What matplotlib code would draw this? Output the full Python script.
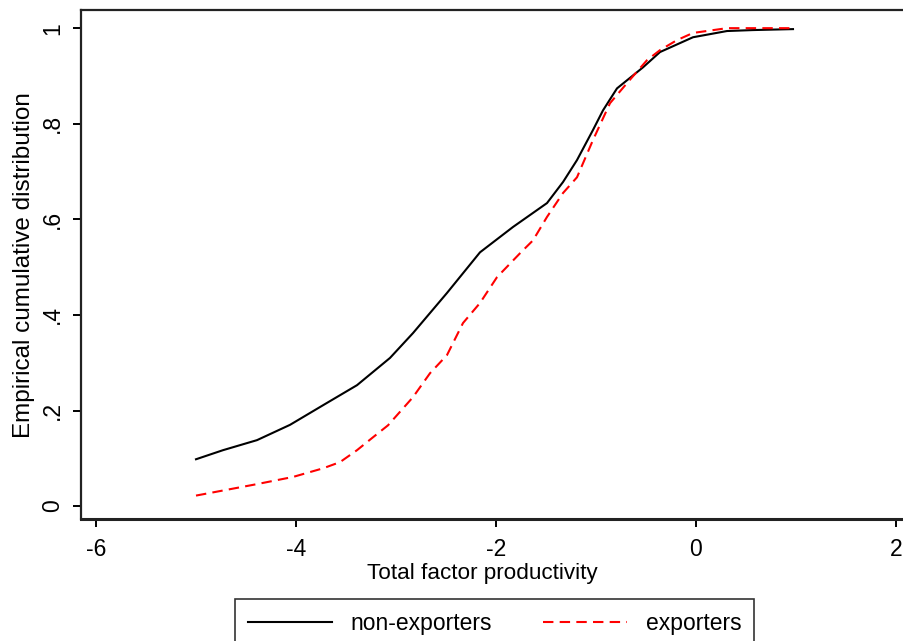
import matplotlib
matplotlib.use("Agg")
import matplotlib.pyplot as plt

plt.rcParams["font.family"] = ["Liberation Sans", "DejaVu Sans"]

# empirical CDF of TFP
tfp_non = [-5.0, -4.73, -4.39, -4.06, -3.73, -3.39, -3.06, -2.83, -2.49, -2.16,
           -1.83, -1.66, -1.49, -1.33, -1.19, -1.03, -0.93, -0.79, -0.53, -0.36,
           -0.03, 0.31, 0.57, 0.97]
cdf_non = [0.098, 0.117, 0.138, 0.170, 0.211, 0.253, 0.310, 0.362, 0.446, 0.531,
           0.584, 0.609, 0.634, 0.678, 0.724, 0.787, 0.828, 0.874, 0.918, 0.950,
           0.981, 0.994, 0.996, 0.998]

tfp_exp = [-5.0, -4.39, -4.03, -3.73, -3.56, -3.39, -3.23, -3.08, -2.83, -2.66,
           -2.49, -2.33, -2.16, -1.99, -1.76, -1.63, -1.49, -1.33, -1.19, -1.03,
           -0.86, -0.69, -0.49, -0.36, -0.19, -0.03, 0.31, 0.97]
cdf_exp = [0.022, 0.046, 0.061, 0.079, 0.092, 0.117, 0.144, 0.169, 0.228, 0.278,
           0.316, 0.383, 0.425, 0.479, 0.529, 0.556, 0.605, 0.655, 0.688, 0.766,
           0.843, 0.885, 0.933, 0.954, 0.975, 0.990, 1.0, 1.0]

xticks = [-6, -4, -2, 0, 2]
yticks = [0, 0.2, 0.4, 0.6, 0.8, 1.0]
ytick_labels = ["0", ".2", ".4", ".6", ".8", "1"]

W, H = 904, 641
fig = plt.figure(figsize=(W / 100, H / 100), dpi=100)
ax = fig.add_axes([81 / W, 1 - 519 / H, (912 - 81) / W, (519 - 10) / H])

ax.plot(tfp_non, cdf_non, color="black", lw=1.5, label="non-exporters")
ax.plot(tfp_exp, cdf_exp, color="red", lw=1.5, dashes=(5, 3), label="exporters")

ax.set_xlim(-6.15, 2.16)
ax.set_ylim(-0.027, 1.038)
ax.set_xticks(xticks)
ax.set_xticklabels([str(t) for t in xticks])
ax.set_yticks(yticks)
ax.set_yticklabels(ytick_labels, rotation=90, va="center")

ax.tick_params(axis="both", direction="out", length=6, width=1.4,
               labelsize=16.5, colors="black")
ax.tick_params(axis="x", pad=8)
ax.tick_params(axis="y", pad=6)

ax.spines["right"].set_visible(False)
ax.spines["bottom"].set_linewidth(2.2)
ax.spines["left"].set_linewidth(1.6)
ax.spines["top"].set_linewidth(1.6)
for s in ["left", "top", "bottom"]:
    ax.spines[s].set_color("#222222")

fig.text(24 / W, 1 - 265 / H, "Empirical cumulative distribution",
         rotation=90, ha="center", va="center", fontsize=17.5)
fig.text(482 / W, 1 - 573 / H, "Total factor productivity",
         ha="center", va="center", fontsize=16.2)

leg = fig.legend(loc="upper left", bbox_to_anchor=(235 / W, 1 - 599 / H),
                 ncol=2, fontsize=16.5, frameon=True, fancybox=False,
                 handlelength=3.7, columnspacing=2.2, handletextpad=0.8,
                 borderpad=0.55, borderaxespad=0)
leg.get_frame().set_edgecolor("black")
leg.get_frame().set_linewidth(1.2)

fig.savefig("out.png", dpi=100)
